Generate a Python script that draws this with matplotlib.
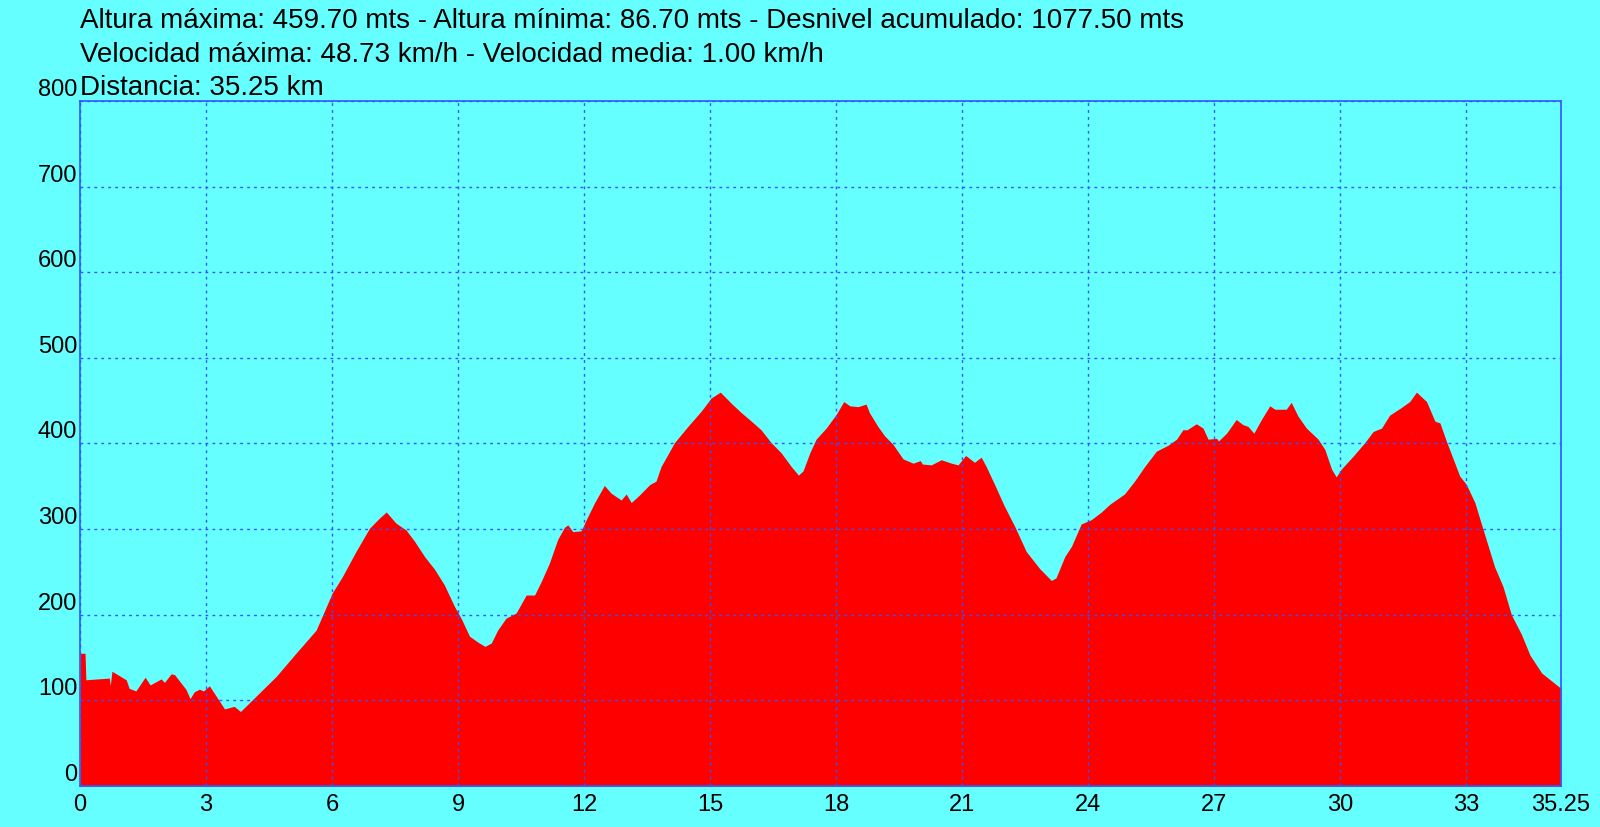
"""Perfil de altura de la ruta"""
import numpy as np
import matplotlib
matplotlib.use("Agg")
import matplotlib.pyplot as plt

distancia = [0.00, 0.02, 0.12, 0.14, 0.40, 0.70, 0.72, 0.76, 1.10, 1.17, 1.33,
             1.55, 1.67, 1.93, 2.01, 2.17, 2.25, 2.52, 2.62, 2.72, 2.84, 2.94,
             3.08, 3.28, 3.44, 3.67, 3.82, 4.11, 4.67, 5.14, 5.62, 5.78, 6.00,
             6.25, 6.57, 6.89, 7.13, 7.29, 7.52, 7.76, 7.96, 8.20, 8.44, 8.67,
             8.91, 9.07, 9.27, 9.47, 9.64, 9.79, 9.94, 10.14, 10.38, 10.62,
             10.82, 10.98, 11.17, 11.37, 11.53, 11.61, 11.73, 11.93, 12.05,
             12.25, 12.48, 12.64, 12.88, 13.00, 13.12, 13.32, 13.56, 13.71,
             13.83, 14.15, 14.47, 14.79, 15.02, 15.24, 15.50, 15.74, 15.98,
             16.21, 16.45, 16.69, 16.93, 17.10, 17.21, 17.37, 17.52, 17.76,
             18.00, 18.18, 18.32, 18.52, 18.71, 18.79, 18.99, 19.15, 19.35,
             19.59, 19.83, 20.00, 20.05, 20.26, 20.50, 20.74, 20.90, 21.08,
             21.29, 21.45, 21.57, 21.77, 22.00, 22.25, 22.52, 22.84, 23.12,
             23.23, 23.44, 23.60, 23.83, 24.07, 24.31, 24.51, 24.86, 25.10,
             25.34, 25.62, 25.90, 26.10, 26.25, 26.35, 26.57, 26.73, 26.85,
             27.05, 27.10, 27.29, 27.52, 27.68, 27.80, 27.94, 28.12, 28.32,
             28.44, 28.71, 28.83, 28.99, 29.19, 29.47, 29.63, 29.79, 29.90,
             30.02, 30.30, 30.58, 30.78, 30.98, 31.17, 31.45, 31.65, 31.81,
             32.05, 32.25, 32.37, 32.52, 32.84, 33.00, 33.20, 33.40, 33.67,
             33.87, 34.07, 34.31, 34.51, 34.79, 35.02, 35.25]
altura = [155, 155, 155, 124, 125, 126, 117, 134, 124, 114, 111,
          127, 118, 125, 121, 131, 130, 113, 102, 110, 113, 111,
          117, 102, 90, 93, 87, 101, 128, 155, 182, 200, 225,
          245, 274, 301, 313, 320, 307, 299, 286, 268, 253, 235,
          210, 196, 175, 168, 163, 167, 182, 196, 202, 223,
          223, 239, 260, 288, 302, 305, 297, 298, 311,
          331, 351, 342, 334, 341, 331, 340, 352, 356,
          373, 401, 420, 438, 453, 460, 447, 436, 426,
          416, 401, 389, 373, 363, 368, 389, 405, 418,
          434, 449, 444, 443, 446, 436, 420, 409, 399,
          382, 377, 380, 376, 375, 381, 377, 375, 386,
          378, 384, 373, 352, 327, 303, 274, 254, 240,
          243, 268, 280, 306, 311, 320, 329, 341, 356,
          373, 391, 398, 405, 416, 416, 423, 418, 405,
          406, 403, 412, 428, 422, 420, 412, 428, 444,
          440, 440, 448, 432, 418, 405, 393, 370, 361,
          370, 385, 401, 414, 418, 433, 442, 449, 460,
          449, 426, 424, 403, 362, 352, 331, 299, 256,
          233, 200, 177, 153, 132, 123, 114]

x_ticks = [0, 3, 6, 9, 12, 15, 18, 21, 24, 27, 30, 33, 35.25]
x_labels = ["0", "3", "6", "9", "12", "15", "18", "21", "24", "27", "30", "33", "35.25"]
y_ticks = [0, 100, 200, 300, 400, 500, 600, 700, 800]

info = [
    "Altura máxima: 459.70 mts - Altura mínima: 86.70 mts - Desnivel acumulado: 1077.50 mts",
    "Velocidad máxima: 48.73 km/h - Velocidad media: 1.00 km/h",
    "Distancia: 35.25 km",
]

plt.rcParams["font.family"] = ["Liberation Sans", "DejaVu Sans"]
fondo = "#66ffff"
azul = "#3355ff"

fig = plt.figure(figsize=(16, 8.27), dpi=100, facecolor=fondo)
ax = fig.add_axes([0.05, 0.0496, 0.9256, 0.8283], facecolor=fondo)

ax.fill_between(distancia, altura, 0, color="#ff0000", linewidth=0, zorder=1)
ax.set_xlim(0, 35.25)
ax.set_ylim(0, 800)

ax.set_xticks(x_ticks)
ax.set_xticklabels(x_labels, fontsize=17)
ax.set_yticks(y_ticks)
ax.set_yticklabels([str(v) for v in y_ticks], fontsize=17)
for lab in ax.get_yticklabels():
    lab.set_verticalalignment("bottom")
ax.tick_params(length=0, pad=2)
ax.tick_params(axis="x", pad=6)

ax.grid(True, color=azul, linestyle=(0, (2, 3)), linewidth=1, zorder=2)
ax.set_axisbelow(False)
for s in ax.spines.values():
    s.set_color(azul)
    s.set_linewidth(1.2)

for i, linea in enumerate(info):
    fig.text(80 / 1600, 1 - (28 + i * 33.5) / 827, linea, fontsize=20,
             va="baseline", ha="left")

fig.savefig("out.png", dpi=100, facecolor=fondo)
